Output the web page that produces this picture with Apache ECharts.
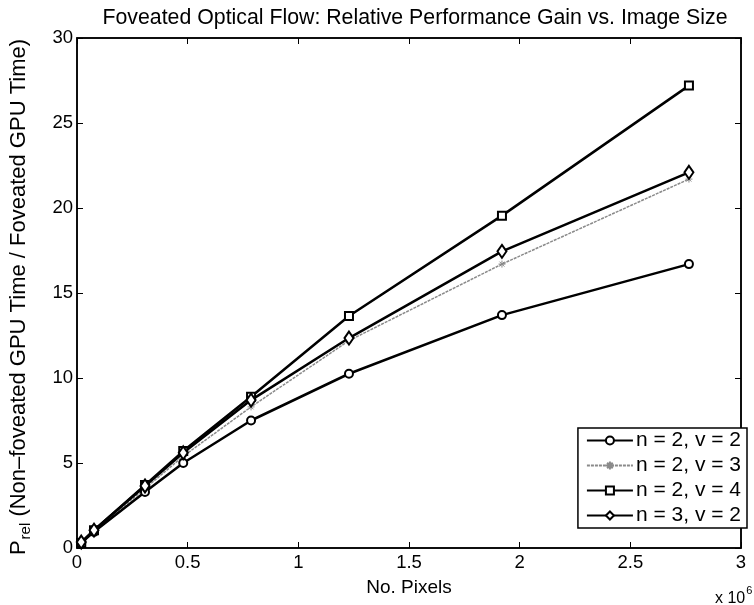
<!DOCTYPE html>
<html>
<head>
<meta charset="utf-8">
<script src="https://cdn.jsdelivr.net/npm/echarts@6/dist/echarts.min.js"></script>
<style>html,body{margin:0;padding:0;background:#fff}#c{width:754px;height:605px}</style>
</head>
<body>
<div id="c"></div>
<script>
// Number of pixels (x 10^6)
const pixels = [0.0192, 0.0768, 0.3072, 0.48, 0.7864, 1.2288, 1.92, 2.7648];
const n2v2 = [0.3, 0.95, 3.3, 5.0, 7.5, 10.25, 13.7, 16.7];
const n2v3 = [0.3, 1.0, 3.5, 5.4, 8.3, 12.2, 16.7, 21.7];
const n2v4 = [0.3, 1.05, 3.7, 5.7, 8.9, 13.65, 19.55, 27.2];
const n3v2 = [0.35, 1.05, 3.65, 5.6, 8.7, 12.35, 17.45, 22.1];
const seriesNames = ['n = 2, v = 2', 'n = 2, v = 3', 'n = 2, v = 4', 'n = 3, v = 2'];
const xTicks = [0, 0.5, 1, 1.5, 2, 2.5, 3];
const yTicks = [0, 5, 10, 15, 20, 25, 30];

const FONT = 'Liberation Sans';
const pair = arr => pixels.map((x, i) => [x, arr[i]]);
const crossPath = 'path://M5,0 L5,10 M0,5 L10,5 M1.5,1.5 L8.5,8.5 M8.5,1.5 L1.5,8.5';

const chart = echarts.init(document.getElementById('c'), null, {renderer: 'canvas'});
const axisCommon = {
  axisLine: {show: true, onZero: false, lineStyle: {color: '#000', width: 1.5}},
  axisTick: {show: true, inside: true, length: 6, lineStyle: {color: '#000', width: 1}},
  splitLine: {show: false}
};
chart.setOption({
  backgroundColor: '#fff',
  animation: false,
  title: [{
    text: 'Foveated Optical Flow: Relative Performance Gain vs. Image Size',
    left: 410, top: 3, textAlign: 'center',
    textStyle: {fontFamily: FONT, fontSize: 21.3, fontWeight: 'normal', color: '#000'}
  }, {
    text: '{a|x 10}{s|6}',
    left: 710, top: 580,
    textStyle: {
      fontWeight: 'normal',
      rich: {
        a: {fontFamily: FONT, fontSize: 16, fontWeight: 'normal', color: '#000', verticalAlign: 'bottom', lineHeight: 22},
        s: {fontFamily: FONT, fontSize: 11, fontWeight: 'normal', color: '#000', verticalAlign: 'top', lineHeight: 22, padding: [0, 0, 9, 1]}
      }
    }
  }],
  grid: {left: 77, right: 13, top: 38, bottom: 57, show: true, borderColor: '#000', borderWidth: 1.5,
    outerBoundsMode: 'none', containLabel: false},
  legend: {
    orient: 'vertical', right: 7, top: 428,
    backgroundColor: '#fff', borderColor: '#000', borderWidth: 1.5,
    padding: [2, 6, 2, 8], itemGap: 4, itemWidth: 46, itemHeight: 10,
    data: seriesNames,
    textStyle: {fontFamily: FONT, fontSize: 21, color: '#000', padding: [0, 0, 0, -2]}
  },
  xAxis: [{
    type: 'value', min: 0, max: 3, interval: 0.5, position: 'bottom',
    name: 'No. Pixels', nameLocation: 'middle', nameGap: 30,
    nameTextStyle: {fontFamily: FONT, fontSize: 19, color: '#000'},
    axisLabel: {fontFamily: FONT, fontSize: 18.5, color: '#000', margin: 5,
      formatter: v => xTicks.includes(v) ? String(v) : ''},
    ...axisCommon
  }, {
    type: 'value', min: 0, max: 3, interval: 0.5, position: 'top',
    axisLabel: {show: false}, ...axisCommon
  }],
  yAxis: [{
    type: 'value', min: 0, max: 30, interval: 5, position: 'left',
    name: '{p|P}{s|rel}{t| (Non\u2013foveated GPU Time / Foveated GPU Time)}',
    nameLocation: 'middle', nameGap: 46, nameRotate: 90,
    nameTextStyle: {
      padding: [0, 8, 0, 0],
      rich: {
        p: {fontFamily: FONT, fontSize: 22, color: '#000', lineHeight: 24},
        s: {fontFamily: FONT, fontSize: 15, color: '#000', lineHeight: 24, padding: [14, 0, 0, 1]},
        t: {fontFamily: FONT, fontSize: 22, color: '#000', lineHeight: 24}
      }
    },
    axisLabel: {fontFamily: FONT, fontSize: 18.5, color: '#000', margin: 4,
      formatter: v => yTicks.includes(v) ? String(v) : ''},
    ...axisCommon
  }, {
    type: 'value', min: 0, max: 30, interval: 5, position: 'right',
    axisLabel: {show: false}, ...axisCommon
  }],
  series: [{
    name: seriesNames[1], type: 'line', data: pair(n2v3), z: 1,
    symbol: crossPath, symbolSize: 7,
    lineStyle: {color: '#8a8a8a', width: 1.5, type: [3, 1]},
    itemStyle: {color: '#8a8a8a', borderColor: '#8a8a8a', borderWidth: 1}
  }, {
    name: seriesNames[0], type: 'line', data: pair(n2v2), z: 3,
    symbol: 'circle', symbolSize: 8,
    lineStyle: {color: '#000', width: 2.5},
    itemStyle: {color: '#fff', borderColor: '#000', borderWidth: 2}
  }, {
    name: seriesNames[2], type: 'line', data: pair(n2v4), z: 3,
    symbol: 'rect', symbolSize: 8,
    lineStyle: {color: '#000', width: 2.5},
    itemStyle: {color: '#fff', borderColor: '#000', borderWidth: 2}
  }, {
    name: seriesNames[3], type: 'line', data: pair(n3v2), z: 3,
    symbol: 'diamond', symbolSize: [9, 13],
    lineStyle: {color: '#000', width: 2.5},
    itemStyle: {color: '#fff', borderColor: '#000', borderWidth: 2}
  }]
});
</script>
</body>
</html>
